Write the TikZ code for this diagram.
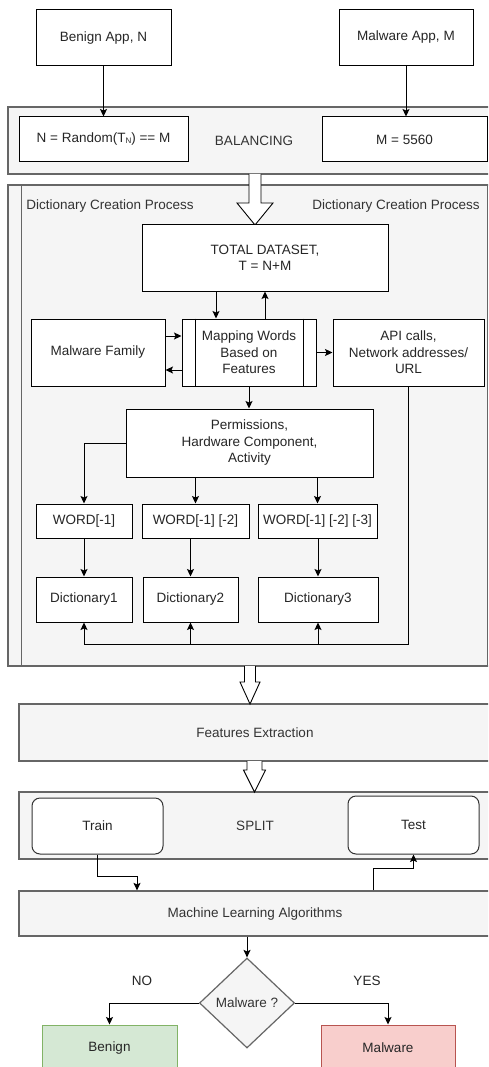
\documentclass[tikz,border=0pt]{standalone}
\usepackage{fontspec}
\setmainfont{Liberation Sans}
\usetikzlibrary{arrows.meta,shapes.geometric}
\definecolor{cfill}{HTML}{F5F5F5}
\definecolor{cstroke}{HTML}{666666}
\definecolor{ctext}{HTML}{333333}
\definecolor{gfill}{HTML}{D5E8D4}
\definecolor{gstroke}{HTML}{82B366}
\definecolor{rfill}{HTML}{F8CECC}
\definecolor{rstroke}{HTML}{B85450}
\newcommand\hollowarr[6]{%
  \draw[line width=0.9pt, fill=white] (#1-#5,#2) -- (#1-#5,#4) -- (#1-#6,#4) -- (#1,#3) -- (#1+#6,#4) -- (#1+#5,#4) -- (#1+#5,#2);}
\begin{document}
\begin{tikzpicture}[x=1pt,y=-1pt,
  every node/.style={font=\fontsize{13.5}{16.5}\selectfont},
  box/.style={draw=black, fill=white, line width=1pt, inner sep=0pt, align=center, text=black!85},
  cont/.style={draw=cstroke, fill=cfill, line width=1.2pt, inner sep=0pt, align=center, text=ctext},
  rbox/.style={box, rounded corners=8pt, draw=black!80},
  arr/.style={-{Stealth[length=7.5pt,width=7pt,inset=1.5pt]}, line width=0.9pt},
  plain/.style={line width=0.9pt},
  lbl/.style={text=black!85, inner sep=0pt}]
\useasboundingbox (0,0) rectangle (488,1067);
\clip (0,0) rectangle (488,1067);
\fill[white] (0,0) rectangle (488,1067);

% top
\node[box, minimum width=135pt, minimum height=56pt] (benignapp) at (103.5,38) {Benign App, N};
\node[box, minimum width=134pt, minimum height=56pt] (malwareapp) at (406,38) {\raisebox{5pt}{Malware App, M}};

% balancing
\node[cont, minimum width=492pt, minimum height=67pt] (balancing) at (254,140.5) {BALANCING};
\node[box, minimum width=169pt, minimum height=45pt] (nrand) at (103.5,139.5) {N = Random(T{\fontsize{8}{8}\selectfont\raisebox{-1pt}{N}}) == M};
\node[box, minimum width=165pt, minimum height=45pt] (m5560) at (404.5,139.5) {M = 5560};
\draw[arr] (benignapp.south) -- (nrand.north);
\draw[arr] (malwareapp.south) -- (malwareapp.south |- m5560.north);

% dictionary container
\node[cont, minimum width=492pt, minimum height=481pt] (dictcont) at (254,425.5) {};
\draw[cstroke, line width=1.2pt] ([xshift=14pt]dictcont.north west) -- ([xshift=14pt]dictcont.south west);
\draw[cstroke, line width=1.2pt] ([xshift=-13pt]dictcont.north east) -- ([xshift=-13pt]dictcont.south east);
\node[lbl, text=ctext] (dictleft) at (110,206) {Dictionary Creation Process};
\node[lbl, text=ctext] (dictright) at (396,206) {Dictionary Creation Process};

\hollowarr{255}{174}{225}{203}{6}{18}

\node[box, minimum width=246pt, minimum height=66pt] (total) at (265,258) {TOTAL DATASET,\\T = N+M};
\node[box, minimum width=134pt, minimum height=67pt] (mapping) at (249,352.5) {Mapping Words\\Based on\\Features};
\draw[line width=1pt] ([xshift=14pt]mapping.north west) -- ([xshift=14pt]mapping.south west);
\draw[line width=1pt] ([xshift=-13pt]mapping.north east) -- ([xshift=-13pt]mapping.south east);
\node[box, minimum width=134pt, minimum height=67pt] (malfam) at (98,352.5) {Malware Family};
\node[box, minimum width=151pt, minimum height=67pt] (api) at (408.5,352.5) {API calls,\\Network addresses/\\URL};
\node[box, minimum width=247pt, minimum height=68pt] (perm) at (249.5,443) {Permissions,\\Hardware Component,\\Activity};
\node[box, minimum width=96pt, minimum height=34pt] (w1) at (84,521) {WORD[-1]};
\node[box, minimum width=107pt, minimum height=34pt] (w2) at (195.5,521) {WORD[-1] [-2]};
\node[box, minimum width=119pt, minimum height=34pt] (w3) at (317.5,521) {WORD[-1] [-2] [-3]};
\node[box, minimum width=96pt, minimum height=45pt] (d1) at (84,599.5) {Dictionary1};
\node[box, minimum width=95pt, minimum height=45pt] (d2) at (190.5,599.5) {Dictionary2};
\node[box, minimum width=120pt, minimum height=45pt] (d3) at (318,599.5) {Dictionary3};

\draw[arr] ([xshift=-49pt]total.south) -- ([xshift=-49pt]total.south |- mapping.north);
\draw[arr] (total.south |- mapping.north) -- (total.south);
\draw[arr] ([yshift=16.5pt]malfam.east) -- ([yshift=16.5pt]malfam.east -| mapping.west);
\draw[arr] ([yshift=-17.5pt]mapping.west) -- ([yshift=-17.5pt]mapping.west -| malfam.east);
\draw[arr] (mapping.east) -- (api.west);
\draw[arr] (mapping.south) -- (mapping.south |- perm.north);
\draw[arr] (perm.west) -| (w1.north);
\draw[arr] (perm.south -| w2.north) -- (w2.north);
\draw[arr] (perm.south -| w3.north) -- (w3.north);
\draw[arr] (w1.south) -- (d1.north);
\draw[arr] (d2.north |- w2.south) -- (d2.north);
\draw[arr] (d3.north |- w3.south) -- (d3.north);
\coordinate (bus) at (0,644);
\draw[plain] (api.south) |- (d1.south |- bus);
\draw[arr] (d1.south |- bus) -- (d1.south);
\draw[arr] (d2.south |- bus) -- (d2.south);
\draw[arr] (d3.south |- bus) -- (d3.south);

% features
\node[cont, minimum width=472pt, minimum height=57pt] (features) at (255,732.5) {Features Extraction};
\hollowarr{250}{666}{704}{682}{5.5}{10}

% split
\node[cont, minimum width=472pt, minimum height=67pt] (split) at (255,825.5) {SPLIT};
\hollowarr{254.5}{761}{792}{770}{7.5}{11}
\node[rbox, minimum width=131pt, minimum height=56pt] (train) at (97.5,826) {Train};
\node[rbox, minimum width=131pt, minimum height=58pt] (test) at (413.5,825) {Test};

% ML
\node[cont, minimum width=472pt, minimum height=45pt] (ml) at (255,913.5) {Machine Learning Algorithms};
\coordinate (tk) at (137,876);
\draw[arr] (train.south) |- (tk) -- (tk |- ml.north);
\coordinate (tk2) at (373,868);
\draw[arr] (tk2 |- ml.north) -- (tk2) -| (test.south);

% decision
\node[diamond, draw=cstroke, fill=cfill, line width=1.2pt, text=ctext, inner sep=0pt, minimum width=95pt, minimum height=90pt] (dec) at (247,1003) {Malware ?};
\draw[arr] (dec.north |- ml.south) -- (dec.north);
\node[box, draw=gstroke, fill=gfill, minimum width=135pt, minimum height=46pt] (benign) at (109.5,1048) {Benign};
\node[box, draw=rstroke, fill=rfill, minimum width=134pt, minimum height=46pt] (malware) at (388,1048) {Malware};
\draw[arr] (dec.west) -| (benign.north);
\draw[arr] (dec.east) -| (malware.north);
\node[lbl] (no) at (142,981) {NO};
\node[lbl] (yes) at (367,981) {YES};
\end{tikzpicture}
\end{document}
